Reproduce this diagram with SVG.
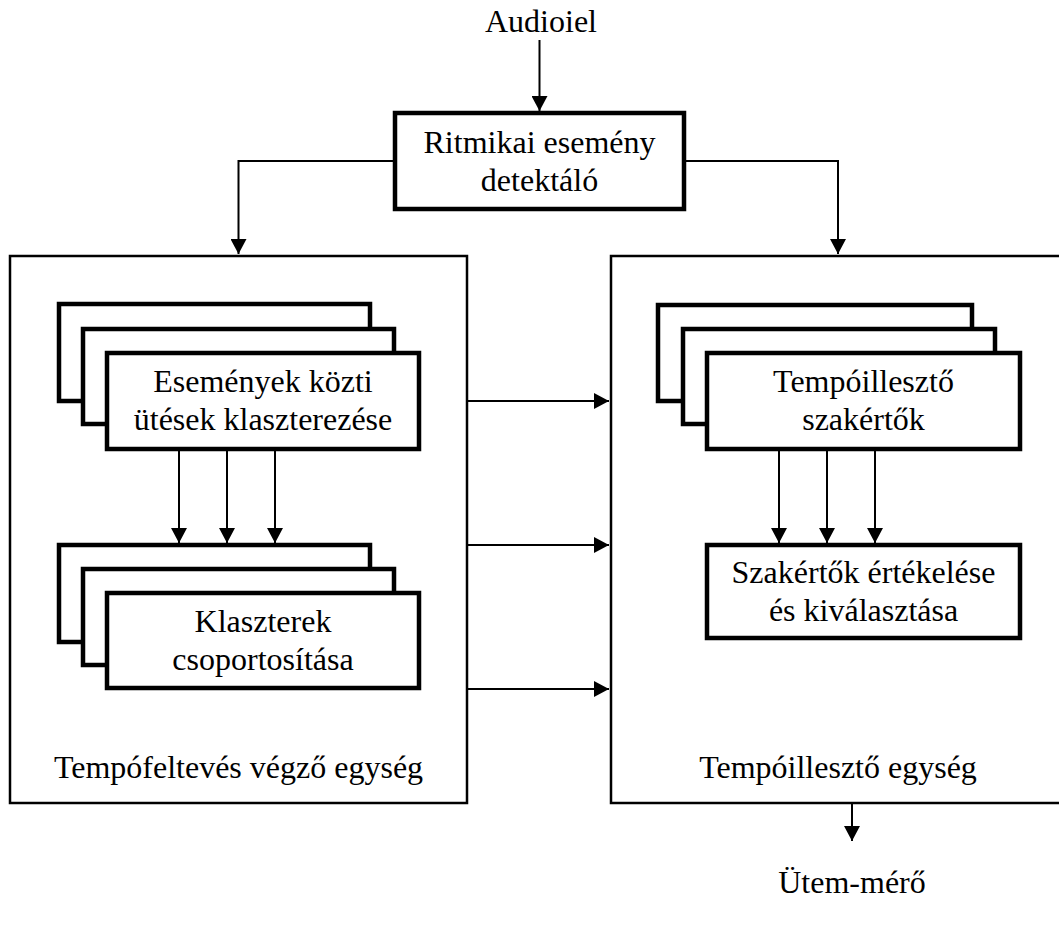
<svg xmlns="http://www.w3.org/2000/svg" width="1059" height="928" viewBox="0 0 1059 928">
<style>
  .t { font-family: "Liberation Serif", "Times New Roman", serif; font-size: 32px; fill: #000; text-anchor: middle; }
  .outer { fill: #fff; stroke: #000; stroke-width: 2.5; }
  .thick { fill: #fff; stroke: #000; stroke-width: 4.5; }
  .c { fill: none; stroke: #000; stroke-width: 2; }
</style>
<defs>
  <marker id="ah" markerWidth="16" markerHeight="16" refX="15" refY="8" orient="auto" markerUnits="userSpaceOnUse">
    <path d="M0,0 L15,8 L0,16 Z" fill="#000"/>
  </marker>
</defs>
<rect width="1059" height="928" fill="#fff"/>

<g id="audioiel">
  <text class="t" x="541" y="32">Audioiel</text>
</g>

<g id="ritmikai">
  <rect class="thick" x="395" y="113" width="289" height="96"/>
  <text class="t" x="539.5" y="153">Ritmikai esemény</text>
  <text class="t" x="539.5" y="191">detektáló</text>
</g>

<g id="tempofeltevés">
  <rect class="outer" x="10" y="256" width="457" height="547"/>
  <text class="t" x="238.5" y="778">Tempófeltevés végző egység</text>
</g>

<g id="tempoillleszto-egyseg">
  <rect class="outer" x="611" y="256" width="455" height="547"/>
  <text class="t" x="838" y="778">Tempóillesztő egység</text>
</g>

<g id="klaszterezes">
  <rect class="thick" x="59" y="304" width="311" height="97"/>
  <rect class="thick" x="83" y="329" width="311" height="95"/>
  <rect class="thick" x="107" y="353" width="312" height="96"/>
  <text class="t" x="263" y="392">Események közti</text>
  <text class="t" x="263" y="430">ütések klaszterezése</text>
</g>

<g id="csoportositas">
  <rect class="thick" x="59" y="545" width="311" height="97"/>
  <rect class="thick" x="83" y="569" width="311" height="96"/>
  <rect class="thick" x="107" y="593" width="312" height="95"/>
  <text class="t" x="263" y="632">Klaszterek</text>
  <text class="t" x="263" y="670">csoportosítása</text>
</g>

<g id="szakertok">
  <rect class="thick" x="658" y="305" width="314" height="96"/>
  <rect class="thick" x="683" y="329" width="312" height="95"/>
  <rect class="thick" x="707" y="353" width="313" height="96"/>
  <text class="t" x="863.5" y="392">Tempóillesztő</text>
  <text class="t" x="863.5" y="430">szakértők</text>
</g>

<g id="ertekeles">
  <rect class="thick" x="707" y="545" width="313" height="93"/>
  <text class="t" x="863.5" y="583">Szakértők értékelése</text>
  <text class="t" x="863.5" y="621">és kiválasztása</text>
</g>

<g id="utem">
  <text class="t" x="852" y="893">Ütem-mérő</text>
</g>

<g id="connectors">
  <line class="c" x1="539.5" y1="40" x2="539.5" y2="111" marker-end="url(#ah)"/>
  <polyline class="c" points="395,161 238.5,161 238.5,254" marker-end="url(#ah)"/>
  <polyline class="c" points="684,161 838,161 838,254" marker-end="url(#ah)"/>
  <line class="c" x1="468" y1="401" x2="609" y2="401" marker-end="url(#ah)"/>
  <line class="c" x1="468" y1="545" x2="609" y2="545" marker-end="url(#ah)"/>
  <line class="c" x1="468" y1="689" x2="609" y2="689" marker-end="url(#ah)"/>
  <line class="c" x1="179" y1="451" x2="179" y2="543" marker-end="url(#ah)"/>
  <line class="c" x1="227" y1="451" x2="227" y2="543" marker-end="url(#ah)"/>
  <line class="c" x1="275" y1="451" x2="275" y2="543" marker-end="url(#ah)"/>
  <line class="c" x1="779" y1="451" x2="779" y2="543" marker-end="url(#ah)"/>
  <line class="c" x1="827" y1="451" x2="827" y2="543" marker-end="url(#ah)"/>
  <line class="c" x1="875" y1="451" x2="875" y2="543" marker-end="url(#ah)"/>
  <line class="c" x1="852" y1="804" x2="852" y2="841" marker-end="url(#ah)"/>
</g>
</svg>
